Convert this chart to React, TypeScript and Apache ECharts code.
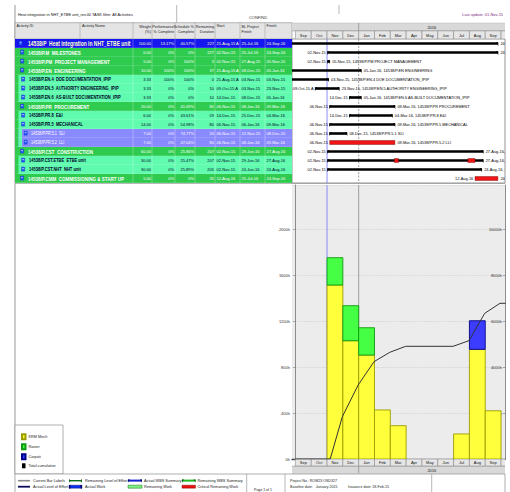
import React, { useEffect, useRef } from "react";
import * as echarts from "echarts";

// ---------------- Data ----------------
const rowIds = ["14538/P", "14538/P.M", "14538/P.PM", "14538/P.EN", "14538/P.EN.4", "14538/P.EN.5", "14538/P.EN.6", "14538/P.PR", "14538/P.PR.8", "14538/P.PR.5", "14538/P.PR.5.1", "14538/P.PR.5.2", "14538/P.CST", "14538/P.CST.ETBE", "14538/P.CST.NHT", "14538/P.CMM"];
const rowNames = ["Heat integration in NHT_ETBE unit", "MILESTONES", "PROJECT MANAGEMENT", "ENGINEERING", "DOE DOCUMENTATION_IPIP", "AUTHORITY ENGINEERING_IPIP", "AS-BUILT DOCUMENTATION_IPIP", "PROCUREMENT", "E&I", "MECHANICAL", "SLI", "LLI", "CONSTRUCTION", "ETBE unit", "NHT unit", "COMMISSIONING & START UP"];
const rowLevels = [0, 1, 1, 1, 2, 2, 2, 1, 2, 2, 3, 3, 1, 2, 2, 1];
const weights = [100, 0, 5, 10, 3.33, 3.33, 3.33, 20, 6, 14, 7, 7, 60, 30, 30, 5];
const perfComplete = [13.17, 0, 0, 100, 100, 0, 0, 0, 0, 0, 0, 0, 0, 0, 0, 0];
const schedComplete = [40.57, 0, 100, 100, 100, 0, 0, 41.69, 43.61, 54.98, 74.77, 47.04, 25.86, 25.47, 25.89, 0];
const remainingDur = [227, 227, 3, 37, 0, 10, 10, 80, 59, 80, 20, 80, 207, 207, 205, 35];
const startDates = ["21-Aug-15 A", "02-Nov-15", "02-Nov-15", "21-Aug-15 A", "21-Aug-15 A", "09-Oct-15 A", "14-Dec-15", "06-Nov-15", "14-Dec-15", "06-Nov-15", "06-Nov-15", "06-Nov-15", "02-Nov-15", "02-Nov-15", "02-Nov-15", "12-Aug-16"];
const blFinishDates = ["25-Jul-16", "25-Jul-16", "27-Aug-15", "08-Dec-15", "03-Nov-15", "03-Nov-15", "08-Dec-15", "08-Jan-16", "25-Dec-15", "06-Jan-16", "12-Nov-15", "08-Jan-16", "29-Jun-16", "29-Jun-16", "24-Jun-16", "25-Jul-16"];
const finishDates = ["24-Sep-16", "24-Sep-16", "05-Nov-15", "05-Jan-16", "03-Nov-15", "23-Nov-15", "05-Jan-16", "09-Mar-16", "04-Mar-16", "09-Mar-16", "08-Dec-15", "09-Mar-16", "27-Aug-16", "27-Aug-16", "24-Aug-16", "24-Sep-16"];
const barCritical = [false, false, false, false, false, false, false, false, false, false, false, true, false, false, false, true];
const critSegRows = [13, 13];
const critSegStarts = ["09-Mar-16", "29-Jul-16"];
const critSegEnds = ["16-Mar-16", "11-Aug-16"];

const monthLabels = ["Sep", "Oct", "Nov", "Dec", "Jan", "Feb", "Mar", "Apr", "May", "Jun", "Jul", "Aug", "Sep", "Oct"];
const yearLabels = ["", "2016"];
const yearStarts = ["01-Jan-15", "01-Jan-16"];
const yearEnds = ["31-Dec-15", "31-Dec-16"];
const dataDate = "01-Nov-15";
const yearLineDate = "01-Jan-16";

// monthly histogram (index = month from Sep-15)
const krmMech = [0, 0, 1515, 1030, 905, 427, 290, 0, 0, 0, 218, 955, 420];
const rainer = [0, 0, 238, 305, 238, 0, 0, 0, 0, 0, 0, 0, 0];
const carpati = [0, 0, 0, 0, 0, 0, 0, 0, 0, 0, 0, 249, 0];
const cumDates = ["01-Sep-15", "07-Nov-15", "30-Nov-15", "31-Dec-15", "31-Jan-16", "29-Feb-16", "31-Mar-16", "30-Jun-16", "31-Jul-16", "31-Aug-16", "29-Sep-16", "10-Oct-16"];
const cumHours = [0, 0, 1842, 3222, 4236, 4645, 4906, 4906, 5150, 6343, 6779, 6779];

const seriesNames = ["KRM Mech", "Rainer", "Carpati", "Total cumulative"];

// ---------------- Helpers ----------------
const FONT = "'Liberation Sans', Arial, Helvetica, sans-serif";
const MONTH_NAMES = ["Jan", "Feb", "Mar", "Apr", "May", "Jun", "Jul", "Aug", "Sep", "Oct", "Nov", "Dec"];

function parseDate(s: string) {
  const p = s.replace(/\s*A$/, "").trim().split("-");
  const day = parseInt(p[0], 10);
  const mi = MONTH_NAMES.indexOf(p[1]);
  const year = 2000 + parseInt(p[2], 10);
  const dim = new Date(year, mi + 1, 0).getDate();
  return { day, mi, year, dim };
}
function toMonthIndex(s: string): number {
  const d = parseDate(s);
  return (d.year - 2015) * 12 + (d.mi - 8) + (d.day - 1) / d.dim;
}
function toMonthEnd(s: string): number {
  const d = parseDate(s);
  return (d.year - 2015) * 12 + (d.mi - 8) + d.day / d.dim;
}
function fmtPct(v: number) {
  return Number.isInteger(v) ? v + "%" : v.toFixed(2) + "%";
}

const XMIN = -0.215;
const XMAX = 13.25;

const LEVEL = [
  { bg: "#1616ee", fg: "#ffffc8", size: 6.6, weight: "bold", iconX: 19, textX: 28 },
  { bg: "#2fcb4f", fg: "#ffffff", size: 6.0, weight: "bold", iconX: 20.5, textX: 28 },
  { bg: "#60fbae", fg: "#00002a", size: 5.4, weight: "bold", iconX: 21.5, textX: 29 },
  { bg: "#8a8aff", fg: "#ffffff", size: 5.0, weight: "normal", iconX: 24, textX: 31 },
];

const colSep = [133, 152, 175, 195, 215, 240, 265];

function buildOption(): any {
  const T0 = 15; // table left in px (table axis is in px from here)
  const rx = (abs: number) => abs - T0;

  const tableRender = (params: any, api: any) => {
    const i = api.value(0);
    const lv = rowLevels[i];
    const st = LEVEL[lv];
    const a = api.coord([0, i]);
    const b = api.coord([277, i + 1]);
    const y0 = a[1];
    const h = b[1] - a[1];
    const yc = y0 + h / 2;
    const kids: any[] = [];
    kids.push({ type: "rect", shape: { x: a[0], y: y0, width: b[0] - a[0], height: h }, style: { fill: st.bg } });
    for (let l = 1; l < lv; l++) {
      const sx = api.coord([rx(T0 + (l - 1) * 3.5), i])[0];
      kids.push({ type: "rect", shape: { x: sx, y: y0, width: 3.5, height: h }, style: { fill: LEVEL[l].bg } });
    }
    for (const c of colSep) {
      const cx = api.coord([rx(c), i])[0];
      kids.push({ type: "line", shape: { x1: cx, y1: y0, x2: cx, y2: y0 + h }, style: { stroke: "rgba(255,255,255,0.55)", lineWidth: 0.5 } });
    }
    kids.push({ type: "line", shape: { x1: a[0], y1: y0 + h, x2: b[0], y2: y0 + h }, style: { stroke: "rgba(255,255,255,0.5)", lineWidth: 0.5 } });
    // icon
    const ix = api.coord([rx(st.iconX), i])[0];
    kids.push({ type: "rect", shape: { x: ix, y: yc - 2.5, width: 3.2, height: 4.2 }, style: { fill: "#2a5cff", stroke: "#0a1a9a", lineWidth: 0.3 } });
    kids.push({ type: "rect", shape: { x: ix + 0.8, y: yc - 1.6, width: 1.6, height: 0.8 }, style: { fill: "#cfe0ff" } });
    // id + name
    const tx = api.coord([rx(st.textX), i])[0];
    kids.push({
      type: "text", x: tx, y: yc + 0.3, scaleX: 0.75, scaleY: 1,
      style: { text: rowIds[i] + "  " + rowNames[i], fontSize: st.size, fontWeight: st.weight, fill: st.fg, fontFamily: FONT, align: "left", verticalAlign: "middle" },
    });
    const num = (absX: number, txt: string, align: string) => ({
      type: "text", x: api.coord([rx(absX), i])[0], y: yc + 0.3,
      style: { text: txt, fontSize: 4, fill: st.fg, fontFamily: FONT, align, verticalAlign: "middle" },
    });
    kids.push(num(151, weights[i].toFixed(2), "right"));
    kids.push(num(174, fmtPct(perfComplete[i]), "right"));
    kids.push(num(194, fmtPct(schedComplete[i]), "right"));
    kids.push(num(214, String(remainingDur[i]), "right"));
    kids.push(num(216.5, startDates[i], "left"));
    kids.push(num(241.5, blFinishDates[i], "left"));
    kids.push(num(266.5, finishDates[i], "left"));
    return { type: "group", children: kids };
  };

  const labelStyle = (text: string, align: string) => ({ text, fontSize: 3.9, fill: "#000", fontFamily: FONT, align, verticalAlign: "middle" });

  const ganttRender = (params: any, api: any) => {
    const i = api.value(0);
    const s = api.value(1);
    const a = api.coord([s, i + 0.5]);
    const b = api.coord([api.value(2), i + 0.5]);
    const yc = a[1];
    const kids: any[] = [];
    if (barCritical[i]) {
      kids.push({ type: "rect", shape: { x: a[0], y: yc - 2, width: b[0] - a[0], height: 4 }, style: { fill: "#f01414", stroke: "#6a0000", lineWidth: 0.4 } });
    } else {
      kids.push({ type: "rect", shape: { x: a[0], y: yc - 1.3, width: b[0] - a[0], height: 2.6 }, style: { fill: "#000" } });
      kids.push({ type: "polygon", shape: { points: [[a[0] - 0.4, yc - 1.3], [a[0] + 1.8, yc - 1.3], [a[0] - 0.4, yc + 2.6]] }, style: { fill: "#000" } });
      kids.push({ type: "polygon", shape: { points: [[b[0] + 0.4, yc - 1.3], [b[0] - 1.8, yc - 1.3], [b[0] + 0.4, yc + 2.6]] }, style: { fill: "#000" } });
    }
    if (s > XMIN) {
      kids.push({ type: "text", x: a[0] - 1.8, y: yc + 0.2, style: labelStyle(startDates[i], "right") });
    }
    kids.push({ type: "text", x: b[0] + 2.5, y: yc + 0.2, style: labelStyle(finishDates[i] + ", " + rowIds[i] + " " + rowNames[i], "left") });
    return { type: "group", children: kids };
  };

  const critRender = (params: any, api: any) => {
    const r = api.value(0);
    const a = api.coord([api.value(1), r + 0.5]);
    const b = api.coord([api.value(2), r + 0.5]);
    return { type: "rect", shape: { x: a[0], y: a[1] - 2, width: b[0] - a[0], height: 4 }, style: { fill: "#f01414", stroke: "#6a0000", lineWidth: 0.4 } };
  };

  const refLineRender = (dashedYear: boolean) => (params: any, api: any) => {
    const x = api.coord([api.value(0), 0])[0];
    const kind = api.value(1);
    const cs = params.coordSys;
    return {
      type: "line",
      shape: { x1: x, y1: cs.y, x2: x, y2: cs.y + cs.height },
      style: kind === 0
        ? { stroke: "#7070ff", lineWidth: 0.8 }
        : { stroke: "#8a8a8a", lineWidth: 0.8, lineDash: dashedYear ? [2, 1.5] : null },
    };
  };

  const monthCellRender = (r0: number, r1: number) => (params: any, api: any) => {
    const m = api.value(0);
    const a = api.coord([m, r0]);
    const b = api.coord([m + 1, r1]);
    return {
      type: "group",
      children: [
        { type: "rect", shape: { x: a[0], y: a[1], width: b[0] - a[0], height: b[1] - a[1] }, style: { fill: "#e6e6e6", stroke: "#8c8c8c", lineWidth: 0.6 } },
        { type: "text", x: (a[0] + b[0]) / 2, y: (a[1] + b[1]) / 2 + 0.3, style: { text: monthLabels[m], fontSize: 4, fill: "#111", fontFamily: FONT, align: "center", verticalAlign: "middle" } },
      ],
    };
  };

  const yearCellRender = (r0: number, r1: number) => (params: any, api: any) => {
    const k = api.value(0);
    const a = api.coord([api.value(1), r0]);
    const b = api.coord([api.value(2), r1]);
    const cs = params.coordSys;
    const vx0 = Math.max(a[0], cs.x);
    const vx1 = Math.min(b[0], cs.x + cs.width);
    return {
      type: "group",
      children: [
        { type: "rect", shape: { x: a[0], y: a[1], width: b[0] - a[0], height: b[1] - a[1] }, style: { fill: "#d9d9d9", stroke: "#8c8c8c", lineWidth: 0.6 } },
        { type: "text", x: (vx0 + vx1) / 2, y: (a[1] + b[1]) / 2 + 0.3, style: { text: yearLabels[k], fontSize: 4, fill: "#111", fontFamily: FONT, align: "center", verticalAlign: "middle" } },
      ],
    };
  };

  const stackRender = (fill: string, stroke: string) => (params: any, api: any) => {
    const m = api.value(0);
    const base = api.value(1);
    const top = api.value(2);
    if (!(top > base)) return null;
    const a = api.coord([m, top]);
    const b = api.coord([m + 1, base]);
    return { type: "rect", shape: { x: a[0], y: a[1], width: b[0] - a[0], height: b[1] - a[1] }, style: { fill, stroke, lineWidth: 0.9 } };
  };

  const rowIdx = rowIds.map((_, i) => [i]);
  const ganttData = rowIds.map((_, i) => [i, toMonthIndex(startDates[i]), toMonthEnd(finishDates[i])]);
  const critData = critSegRows.map((r, k) => [r, toMonthIndex(critSegStarts[k]), toMonthEnd(critSegEnds[k])]);
  const refData = [[toMonthIndex(dataDate), 0], [toMonthIndex(yearLineDate), 1]];
  const monthData = monthLabels.map((_, m) => [m]);
  const yearData = yearLabels.map((_, k) => [k, toMonthIndex(yearStarts[k]), toMonthEnd(yearEnds[k])]);

  const txt = (x: number, y: number, text: string, extra: any = {}) => ({
    type: "text", x, y, silent: true,
    style: { text, fontSize: 3.8, fill: "#222", fontFamily: FONT, verticalAlign: "middle", align: "left", ...extra },
  });
  const ln = (x1: number, y1: number, x2: number, y2: number, stroke = "#8c8c8c", lineWidth = 0.8, extra: any = {}) => ({
    type: "line", silent: true, shape: { x1, y1, x2, y2 }, style: { stroke, lineWidth, ...extra },
  });
  const rc = (x: number, y: number, w: number, h: number, fill: string, stroke = "none", lineWidth = 0.5) => ({
    type: "rect", silent: true, shape: { x, y, width: w, height: h }, style: { fill, stroke, lineWidth },
  });

  const graphics: any[] = [
    // header area
    ln(15, 5, 15, 474, "#9a9a9a", 1),
    txt(18, 14.7, "Heat integration in NHT_ETBE unit_rev.00 TASK filter: All Activities", { fontSize: 3.9, fill: "#111" }),
    ln(176.7, 5, 176.7, 22.5, "#9a9a9a", 0.7),
    ln(339, 5, 339, 14, "#9a9a9a", 0.7),
    txt(258, 17.5, "CONFIND", { align: "center", fontSize: 4, fill: "#333" }),
    txt(503, 14, "Last update: 01-Nov-15", { align: "right", fontSize: 3.9, fill: "#7a2a82" }),
    rc(15, 22.7, 277, 16.3, "#e4e4e4", "#8c8c8c", 0.6),
    ...[80, 133, 152, 175, 195, 215, 240, 265].map((x) => ln(x, 22.7, x, 39, "#9a9a9a", 0.5)),
    txt(16.5, 26, "Activity ID"),
    txt(82, 26, "Activity Name"),
    txt(151, 24.2, "Weight\n(%)", { align: "right", verticalAlign: "top", lineHeight: 5 }),
    txt(174, 24.2, "Performance\n% Complete", { align: "right", verticalAlign: "top", lineHeight: 5 }),
    txt(194, 24.2, "Schedule %\nComplete", { align: "right", verticalAlign: "top", lineHeight: 5 }),
    txt(214, 24.2, "Remaining\nDuration", { align: "right", verticalAlign: "top", lineHeight: 5 }),
    txt(216.5, 26, "Start"),
    txt(241.5, 24.2, "BL Project\nFinish", { verticalAlign: "top", lineHeight: 5 }),
    txt(266.5, 26, "Finish"),
    ln(15, 183.5, 505, 183.5, "#9a9a9a", 0.8),
    // histogram legend box
    rc(15, 425, 48, 49, "#ffffff", "#8c8c8c", 0.7),
    // footer
    rc(15, 474, 490, 20, "#ffffff", "#8c8c8c", 0.7),
    ln(246.7, 474, 246.7, 492, "#9a9a9a", 0.7),
    ln(285, 474, 285, 492, "#9a9a9a", 0.7),
    ln(431.7, 474, 431.7, 492, "#9a9a9a", 0.7),
    // footer legend row 1
    ln(18, 480.7, 30, 480.7, "#8a8a8a", 1.6),
    txt(33, 480.7, "Current Bar Labels"),
    ln(69, 480.7, 82, 480.7, "#0a6a1a", 1.4),
    rc(69, 479.2, 0.8, 3, "#0a6a1a"), rc(81.2, 479.2, 0.8, 3, "#0a6a1a"),
    txt(85, 480.7, "Remaining Level of Effort"),
    rc(128, 479.6, 14, 2, "#1020d0"),
    { type: "polygon", silent: true, shape: { points: [[128, 479.6], [130, 479.6], [128, 482.6]] }, style: { fill: "#000066" } },
    { type: "polygon", silent: true, shape: { points: [[142, 479.6], [140, 479.6], [142, 482.6]] }, style: { fill: "#000066" } },
    txt(144, 480.7, "Actual WBS Summary"),
    rc(182, 479.6, 13.5, 2, "#22bb22"),
    { type: "polygon", silent: true, shape: { points: [[182, 479.6], [184, 479.6], [182, 482.6]] }, style: { fill: "#005500" } },
    { type: "polygon", silent: true, shape: { points: [[195.5, 479.6], [193.5, 479.6], [195.5, 482.6]] }, style: { fill: "#005500" } },
    txt(197.5, 480.7, "Remaining WBS Summary"),
    // footer legend row 2
    ln(18, 486.7, 30, 486.7, "#0a0a5a", 1.8),
    txt(33, 486.7, "Actual Level of Effort"),
    rc(69, 485.2, 13, 3, "#1030f0", "#000066", 0.4),
    rc(69, 485, 1.5, 3.4, "#000066"), rc(80.5, 485, 1.5, 3.4, "#000066"),
    txt(85, 486.7, "Actual Work"),
    rc(128, 485.2, 14, 3, "#80f080", "#0a6a1a", 0.5),
    txt(144, 486.7, "Remaining Work"),
    rc(182, 485.2, 13.5, 3, "#e81010", "#7a0000", 0.4),
    txt(197.5, 486.7, "Critical Remaining Work"),
    txt(263, 490.2, "Page 1 of 1", { align: "center", fontSize: 3.5 }),
    txt(290, 480.7, "Project No.: ROM23 OSD327", { fontSize: 3.6 }),
    txt(290, 487, "Baseline date:   January 2015", { fontSize: 3.6 }),
    txt(348, 487, "Issuance date: 18-Feb-15", { fontSize: 3.6 }),
  ];

  const hFmt = (v: number) => String(Math.round(v)) + "h";

  return {
    animation: false,
    backgroundColor: "#ffffff",
    textStyle: { fontFamily: FONT },
    legend: {
      data: seriesNames,
      orient: "vertical",
      left: 16,
      top: 428.3,
      itemWidth: 3.5,
      itemHeight: 5,
      itemGap: 3,
      icon: "rect",
      selectedMode: false,
      textStyle: { fontSize: 3.8, color: "#222", fontFamily: FONT, padding: [0, 0, 0, -2] },
    },
    graphic: { elements: graphics },
    grid: [
      { left: 292, top: 39, width: 213, height: 144, show: true, backgroundColor: "#ffffff", borderColor: "#7a7a7a", borderWidth: 0.8 },
      { left: 292, top: 185, width: 213, height: 274, show: true, backgroundColor: "#ececec", borderWidth: 0 },
      { left: 15, top: 39, width: 277, height: 144 },
      { left: 292, top: 22.7, width: 213, height: 16.3 },
      { left: 292, top: 459, width: 213, height: 14.5 },
    ],
    xAxis: [
      { gridIndex: 0, type: "value", min: XMIN, max: XMAX, show: false },
      {
        gridIndex: 1, type: "value", min: XMIN, max: XMAX,
        axisLine: { show: true, onZero: false, lineStyle: { color: "#444", width: 1.4 } },
        axisTick: { show: false }, axisLabel: { show: false }, splitLine: { show: false },
      },
      { gridIndex: 2, type: "value", min: 0, max: 277, show: false },
      { gridIndex: 3, type: "value", min: XMIN, max: XMAX, show: false },
      { gridIndex: 4, type: "value", min: XMIN, max: XMAX, show: false },
    ],
    yAxis: [
      { gridIndex: 0, type: "value", min: 0, max: 16, inverse: true, show: false },
      {
        gridIndex: 1, type: "value", min: 0, max: 2386, interval: 400, position: "left",
        axisLine: { show: true, lineStyle: { color: "#8c8c8c", width: 1 } },
        axisTick: { show: true, length: 2, lineStyle: { color: "#666", width: 0.5 } },
        axisLabel: { fontSize: 4, color: "#333", margin: 2, formatter: hFmt, showMaxLabel: false, fontFamily: FONT },
        splitLine: { show: true, lineStyle: { color: "#c2c2c2", type: "dotted", width: 0.6 } },
      },
      {
        gridIndex: 1, type: "value", min: 0, max: 11930, interval: 2000, position: "right",
        axisLine: { show: true, lineStyle: { color: "#8c8c8c", width: 1 } },
        axisTick: { show: true, inside: true, length: 2, lineStyle: { color: "#666", width: 0.5 } },
        axisLabel: { inside: true, fontSize: 4, color: "#333", margin: 3, formatter: hFmt, showMinLabel: false, showMaxLabel: false, fontFamily: FONT },
        splitLine: { show: false },
      },
      { gridIndex: 2, type: "value", min: 0, max: 16, inverse: true, show: false },
      { gridIndex: 3, type: "value", min: 0, max: 2, inverse: true, show: false },
      { gridIndex: 4, type: "value", min: 0, max: 2, inverse: true, show: false },
    ],
    series: [
      // table
      { type: "custom", name: "table", xAxisIndex: 2, yAxisIndex: 3, data: rowIdx, renderItem: tableRender, silent: true, z: 2 },
      // top time scale
      { type: "custom", name: "topYears", xAxisIndex: 3, yAxisIndex: 4, data: yearData, renderItem: yearCellRender(0, 1), clip: true, silent: true },
      { type: "custom", name: "topMonths", xAxisIndex: 3, yAxisIndex: 4, data: monthData, renderItem: monthCellRender(1, 2), clip: true, silent: true },
      // bottom time scale
      { type: "custom", name: "botMonths", xAxisIndex: 4, yAxisIndex: 5, data: monthData, renderItem: monthCellRender(0, 1), clip: true, silent: true },
      { type: "custom", name: "botYears", xAxisIndex: 4, yAxisIndex: 5, data: yearData, renderItem: yearCellRender(1, 2), clip: true, silent: true },
      // gantt
      { type: "custom", name: "ganttRef", xAxisIndex: 0, yAxisIndex: 0, data: refData, renderItem: refLineRender(true), clip: true, silent: true, z: 1 },
      { type: "custom", name: "gantt", xAxisIndex: 0, yAxisIndex: 0, data: ganttData, renderItem: ganttRender, clip: true, silent: true, z: 3 },
      { type: "custom", name: "ganttCrit", xAxisIndex: 0, yAxisIndex: 0, data: critData, renderItem: critRender, clip: true, silent: true, z: 4 },
      // histogram
      { type: "custom", name: "histRef", xAxisIndex: 1, yAxisIndex: 1, data: refData, renderItem: refLineRender(false), clip: true, silent: true, z: 1 },
      {
        type: "custom", name: seriesNames[0], xAxisIndex: 1, yAxisIndex: 1, z: 3, silent: true, clip: true,
        itemStyle: { color: "#ffff3c", borderColor: "#9c9c00", borderWidth: 0.5 },
        data: krmMech.map((v, m) => [m, 0, v]),
        renderItem: stackRender("#ffff3c", "#9c9c00"),
      },
      {
        type: "custom", name: seriesNames[1], xAxisIndex: 1, yAxisIndex: 1, z: 3, silent: true, clip: true,
        itemStyle: { color: "#44ff44", borderColor: "#119911", borderWidth: 0.5 },
        data: rainer.map((v, m) => [m, krmMech[m], krmMech[m] + v]),
        renderItem: stackRender("#44ff44", "#119911"),
      },
      {
        type: "custom", name: seriesNames[2], xAxisIndex: 1, yAxisIndex: 1, z: 3, silent: true, clip: true,
        itemStyle: { color: "#3c3cff", borderColor: "#000088", borderWidth: 0.5 },
        data: carpati.map((v, m) => [m, krmMech[m] + rainer[m], krmMech[m] + rainer[m] + v]),
        renderItem: stackRender("#3c3cff", "#000088"),
      },
      {
        type: "line", name: seriesNames[3], xAxisIndex: 1, yAxisIndex: 2, z: 6, silent: true, clip: true,
        symbol: "none",
        itemStyle: { color: "#000000" },
        lineStyle: { color: "#333333", width: 1 },
        data: cumDates.map((d, k) => [toMonthIndex(d), cumHours[k]]),
      },
    ],
  };
}

export default function App() {
  const ref = useRef<HTMLDivElement>(null);
  useEffect(() => {
    if (!ref.current) return;
    const chart = echarts.init(ref.current, null, { renderer: "svg" });
    chart.setOption(buildOption());
    return () => chart.dispose();
  }, []);
  return (
    <div
      ref={ref}
      style={{ position: "absolute", left: 0, top: 0, width: 510, height: 492, background: "#ffffff" }}
    />
  );
}
